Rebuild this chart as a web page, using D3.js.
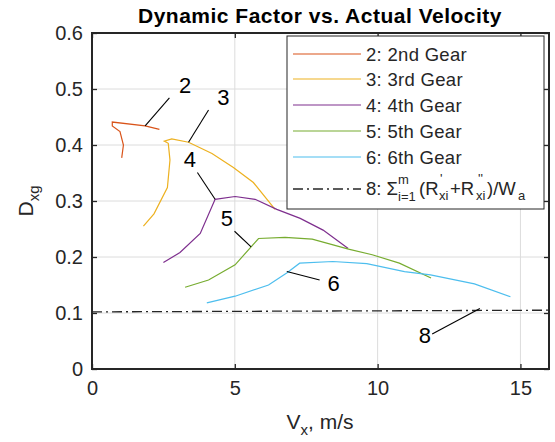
<!DOCTYPE html>
<html>
<head>
<meta charset="utf-8">
<script src="https://cdn.jsdelivr.net/npm/d3@7"></script>
<style>
	body { margin: 0; background: #fff; }
	text { font-family: "Liberation Sans", Arial, sans-serif; fill: #262626; }
</style>
</head>
<body>
<svg id="chart" width="555" height="442"></svg>
<script>
// gear curves: [Vx, Dxg]
var gear2 = [[1.04,0.377],[1.10,0.400],[0.98,0.424],[0.71,0.434],[0.71,0.441],[1.86,0.434],[2.36,0.428]];
var gear3 = [[1.80,0.255],[2.17,0.277],[2.64,0.324],[2.73,0.373],[2.67,0.403],[2.53,0.407],[2.79,0.411],
	[3.38,0.405],[4.20,0.385],[4.95,0.360],[5.65,0.333],[6.41,0.285]];
var gear4 = [[2.50,0.190],[3.08,0.208],[3.79,0.242],[4.31,0.303],[5.01,0.308],[5.71,0.303],[6.47,0.285],
	[7.29,0.269],[8.09,0.248],[8.97,0.215]];
var gear5 = [[3.26,0.146],[4.08,0.159],[5.01,0.186],[5.83,0.233],[6.76,0.235],[7.71,0.232],[8.98,0.214],
	[9.81,0.204],[10.76,0.189],[11.87,0.1625]];
var gear6 = [[4.02,0.118],[5.01,0.130],[6.18,0.150],[6.83,0.172],[7.27,0.189],[8.43,0.192],[9.62,0.188],
	[10.94,0.174],[11.85,0.168],[13.39,0.152],[14.65,0.129]];
var resist = [[0,0.102],[8,0.1035],[16,0.105]];

var seriesNames = ["2: 2nd Gear","3: 3rd Gear","4: 4th Gear","5: 5th Gear","6: 6th Gear"];
var seriesColors = ["#D95319","#EDB120","#7E2F8E","#77AC30","#4DBEEE"];

var xTicks = [0,5,10,15];
var yTicks = [0,0.1,0.2,0.3,0.4,0.5,0.6];

// callouts: label, text position, leader from, leader to
var callouts = [
	{ t: "2", tx: 3.26, ty: 0.507, x1: 2.71, y1: 0.484, x2: 1.86, y2: 0.434 },
	{ t: "3", tx: 4.60, ty: 0.486, x1: 4.08, y1: 0.4625, x2: 3.38, y2: 0.405 },
	{ t: "4", tx: 3.43, ty: 0.374, x1: 3.69, y1: 0.351, x2: 4.31, y2: 0.303 },
	{ t: "5", tx: 4.72, ty: 0.269, x1: 4.99, y1: 0.246, x2: 5.57, y2: 0.218 },
	{ t: "6", tx: 8.46, ty: 0.153, x1: 7.97, y1: 0.159, x2: 6.82, y2: 0.174 },
	{ t: "8", tx: 11.65, ty: 0.061, x1: 11.91, y1: 0.0625, x2: 13.58, y2: 0.108 }
];

var margin = { left: 92, top: 33, right: 549, bottom: 369 };
var svg = d3.select("#chart");

var x = d3.scaleLinear().domain([0, 16]).range([margin.left, margin.right]);
var y = d3.scaleLinear().domain([0, 0.6]).range([margin.bottom, margin.top]);

// grid
svg.append("g").selectAll("line").data(xTicks.slice(1)).enter().append("line")
	.attr("x1", function (d) { return x(d); }).attr("x2", function (d) { return x(d); })
	.attr("y1", y(0)).attr("y2", y(0.6))
	.attr("stroke", "#dcdcdc").attr("stroke-width", 1);
svg.append("g").selectAll("line").data(yTicks.slice(1, -1)).enter().append("line")
	.attr("y1", function (d) { return y(d); }).attr("y2", function (d) { return y(d); })
	.attr("x1", x(0)).attr("x2", x(16))
	.attr("stroke", "#dcdcdc").attr("stroke-width", 1);

// axes
function styleAxis(g) {
	g.select(".domain").remove();
	g.selectAll("line").attr("stroke", "#262626").attr("stroke-width", 1.3);
	g.selectAll("text").style("font-size", "20px").attr("fill", "#262626");
}
svg.append("g").attr("transform", "translate(0," + y(0) + ")")
	.call(d3.axisBottom(x).tickValues(xTicks).tickSize(-5).tickPadding(12).tickFormat(d3.format("d")))
	.call(styleAxis);
svg.append("g").attr("transform", "translate(" + x(0) + ",0)")
	.call(d3.axisLeft(y).tickValues(yTicks).tickSize(-5).tickPadding(9).tickFormat(function (d) { return d === 0 ? "0" : d3.format(".1f")(d); }))
	.call(styleAxis);
svg.append("g").attr("transform", "translate(0," + y(0.6) + ")")
	.call(d3.axisTop(x).tickValues(xTicks).tickSize(-5).tickFormat(""))
	.call(styleAxis);
svg.append("g").attr("transform", "translate(" + x(16) + ",0)")
	.call(d3.axisRight(y).tickValues(yTicks).tickSize(-5).tickFormat(""))
	.call(styleAxis);

svg.append("rect")
	.attr("x", x(0)).attr("y", y(0.6))
	.attr("width", x(16) - x(0)).attr("height", y(0) - y(0.6))
	.attr("fill", "none").attr("stroke", "#262626").attr("stroke-width", 2);

var line = d3.line().x(function (d) { return x(d[0]); }).y(function (d) { return y(d[1]); });

// resistance line
svg.append("path").datum(resist)
	.attr("d", line).attr("fill", "none")
	.attr("stroke", "#262626").attr("stroke-width", 1.3)
	.attr("stroke-dasharray", "10,4,2,4");

var gears = [gear2, gear3, gear4, gear5, gear6];
svg.append("g").selectAll("path").data(gears).enter().append("path")
	.attr("d", line).attr("fill", "none")
	.attr("stroke", function (d, i) { return seriesColors[i]; })
	.attr("stroke-width", 1.2);

// callouts
var co = svg.append("g").selectAll("g").data(callouts).enter().append("g");
co.append("line")
	.attr("x1", function (d) { return x(d.x1); }).attr("y1", function (d) { return y(d.y1); })
	.attr("x2", function (d) { return x(d.x2); }).attr("y2", function (d) { return y(d.y2); })
	.attr("stroke", "#000").attr("stroke-width", 1.1);
co.append("text")
	.attr("x", function (d) { return x(d.tx); }).attr("y", function (d) { return y(d.ty); })
	.attr("text-anchor", "middle").attr("dy", "0.36em")
	.style("font-size", "22px").style("fill", "#000")
	.text(function (d) { return d.t; });

// legend
var lg = svg.append("g");
lg.append("rect").attr("x", 287).attr("y", 36).attr("width", 257).attr("height", 173)
	.attr("fill", "#fff").attr("stroke", "#262626").attr("stroke-width", 1);
var rowsY = [54, 79, 105, 131, 157];
seriesNames.forEach(function (name, i) {
	lg.append("line").attr("x1", 293).attr("x2", 361).attr("y1", rowsY[i]).attr("y2", rowsY[i])
		.attr("stroke", seriesColors[i]).attr("stroke-width", 1.2);
	lg.append("text").attr("x", 366).attr("y", rowsY[i]).attr("dy", "0.36em")
		.style("font-size", "18.5px").style("letter-spacing", "0.3px").text(name);
});
lg.append("line").attr("x1", 293).attr("x2", 361).attr("y1", 189).attr("y2", 189)
	.attr("stroke", "#262626").attr("stroke-width", 1.3).attr("stroke-dasharray", "10,4,2,4");
// one text per piece so the primes and subscripts sit side by side
var ltx = 366, lty = 195;
var pieces = [
	{ s: "8: \u03A3", dx: 0, dy: 0, f: 18.5 },
	{ s: "m", dx: 32, dy: -11, f: 13 },
	{ s: "i=1", dx: 32, dy: 6, f: 13 },
	{ s: "(R", dx: 53, dy: 0, f: 18.5 },
	{ s: "'", dx: 74, dy: -12, f: 13 },
	{ s: "xi", dx: 73, dy: 5, f: 13 },
	{ s: "+R", dx: 84, dy: 0, f: 18.5 },
	{ s: "''", dx: 112, dy: -12, f: 13 },
	{ s: "xi", dx: 110, dy: 5, f: 13 },
	{ s: ")/W", dx: 121, dy: 0, f: 18.5 },
	{ s: "a", dx: 152, dy: 5, f: 13 }
];
lg.selectAll("text.eq").data(pieces).enter().append("text").attr("class", "eq")
	.attr("x", function (d) { return ltx + d.dx; }).attr("y", function (d) { return lty + d.dy; })
	.style("font-size", function (d) { return d.f + "px"; })
	.text(function (d) { return d.s; });

// title and axis labels
svg.append("text").attr("x", 320).attr("y", 23).attr("text-anchor", "middle")
	.style("font-size", "21px").style("font-weight", "bold").style("letter-spacing", "0.5px").style("fill", "#000")
	.text("Dynamic Factor vs. Actual Velocity");

var xl = svg.append("text").attr("x", 320).attr("y", 429).attr("text-anchor", "middle").style("font-size", "21px");
xl.append("tspan").text("V");
xl.append("tspan").attr("dy", "6").style("font-size", "15px").text("x");
xl.append("tspan").attr("dy", "-6").text(", m/s");

var yl = svg.append("text").attr("transform", "translate(33,201) rotate(-90)").attr("text-anchor", "middle").style("font-size", "21px");
yl.append("tspan").text("D");
yl.append("tspan").attr("dy", "6").style("font-size", "15px").text("xg");
</script>
</body>
</html>
